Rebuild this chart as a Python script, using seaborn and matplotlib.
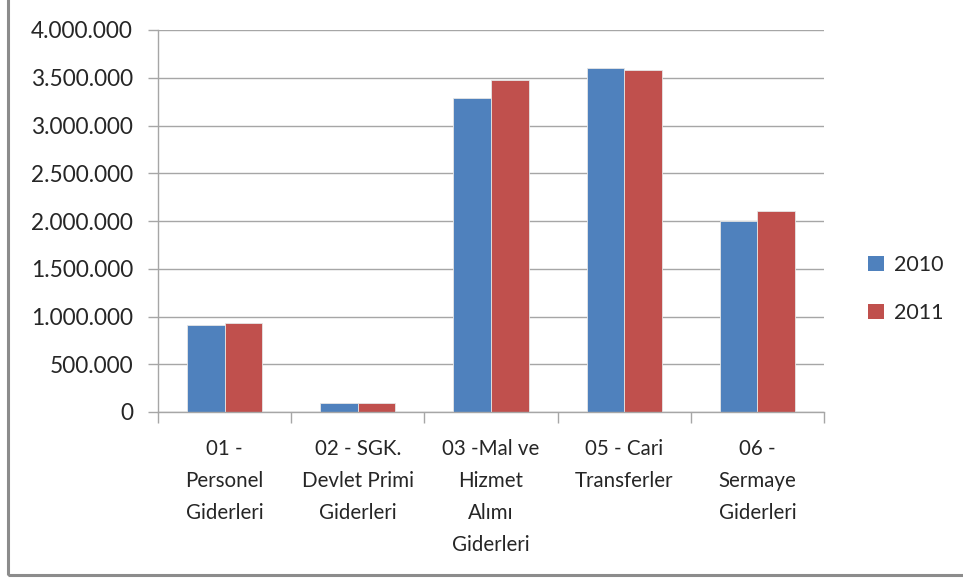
import numpy as np
import pandas as pd
import matplotlib
matplotlib.use("Agg")
import matplotlib.pyplot as plt
import matplotlib.patches as mpatches
from matplotlib.ticker import FuncFormatter, FixedLocator
import seaborn as sns

# Values
categories = ["01 -\nPersonel\nGiderleri",
              "02 - SGK.\nDevlet Primi\nGiderleri",
              "03 -Mal ve\nHizmet\nAlımı\nGiderleri",
              "05 - Cari\nTransferler",
              "06 -\nSermaye\nGiderleri"]
years = ["2010", "2011"]
values_2010 = [906000, 99000, 3291000, 3600000, 2000000]
values_2011 = [927000, 99000, 3480000, 3585000, 2100000]
yticks = [0, 500000, 1000000, 1500000, 2000000, 2500000, 3000000, 3500000, 4000000]

df = pd.DataFrame({
    "cat": categories * 2,
    "year": [years[0]] * len(categories) + [years[1]] * len(categories),
    "value": values_2010 + values_2011,
})

sns.set_style("white")
plt.rcParams["font.family"] = ["Lato", "DejaVu Sans"]
TXT = "#262626"
GRID = "#a6a6a6"

W, H = 963, 581
fig = plt.figure(figsize=(W / 100, H / 100), dpi=100)
ax = fig.add_axes([158 / W, (H - 412) / H, (824 - 158) / W, (412 - 30) / H])

sns.barplot(data=df, x="cat", y="value", hue="year", order=categories,
            palette=["#4f81bd", "#c0504d"], width=0.565, saturation=1,
            edgecolor="#e6e6e6", linewidth=0.6, ax=ax)

ax.set_xlim(-0.5, len(categories) - 0.5)
ax.set_ylim(0, 4000000)
ax.set_yticks(yticks)
ax.yaxis.set_major_formatter(FuncFormatter(lambda v, p: f"{int(v):,}".replace(",", ".")))
ax.yaxis.grid(True, color=GRID, lw=1)
ax.set_axisbelow(True)
ax.set_xlabel("")
ax.set_ylabel("")

for s in ["top", "right"]:
    ax.spines[s].set_visible(False)
for s in ["left", "bottom"]:
    ax.spines[s].set_color(GRID)
    ax.spines[s].set_linewidth(1)

# category separator ticks, category names drawn as text for wider line spacing
ax.xaxis.set_minor_locator(FixedLocator(np.arange(-0.5, len(categories), 1.0)))
ax.tick_params(axis="x", which="minor", length=8, color=GRID, width=1, direction="out", bottom=True)
ax.tick_params(axis="x", which="major", length=0, labelbottom=False)
ax.tick_params(axis="y", length=7, color=GRID, width=1, direction="out", left=True,
               pad=11, labelsize=16.3, labelcolor=TXT)
for i, name in enumerate(categories):
    ax.text(i, -27 / 382, name, transform=ax.get_xaxis_transform(), ha="center", va="top",
            fontsize=14.8, color=TXT, linespacing=1.76)

handles = [mpatches.Patch(facecolor=c, edgecolor="none") for c in ["#4f81bd", "#c0504d"]]
leg = ax.legend(handles, years, loc="center left", bbox_to_anchor=(849 / W, 292 / H),
                bbox_transform=fig.transFigure, frameon=False, fontsize=15.5,
                handlelength=0.72, handleheight=0.72, handletextpad=0.45, labelspacing=1.3)
for t in leg.get_texts():
    t.set_color(TXT)

# outer chart border
fig.patches.append(mpatches.Rectangle((8 / W, 6 / H), 1.0, 1.0, transform=fig.transFigure,
                                      fill=False, edgecolor="#8c8c8c", lw=2.2, clip_on=False))

fig.savefig("out.png", dpi=100, facecolor="white")
